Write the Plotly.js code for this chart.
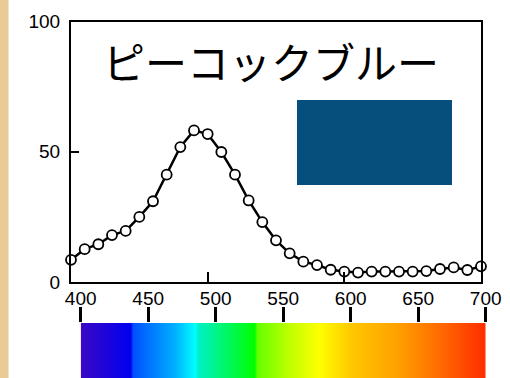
<!DOCTYPE html>
<html>
<head>
<meta charset="utf-8">
<script src="https://cdn.plot.ly/plotly-3.0.1.min.js"></script>
<style>html,body{margin:0;padding:0;background:#fff;}#chart{width:510px;height:378px;}</style>
</head>
<body>
<div id="chart"></div>
<script>
// Data
const wavelengths = [400,410,420,430,440,450,460,470,480,490,500,510,520,530,540,550,560,570,580,590,600,610,620,630,640,650,660,670,680,690,700];
const reflectance = [8.5,12.6,14.5,18,19.6,25,31,41.2,51.8,58.2,56.8,49.9,41.2,31.3,23,16,11,7.8,6.5,4.7,4.0,3.6,4.0,4.0,4.0,4.0,4.2,5.0,5.6,4.6,6.0];
const yTickVals = [0,50,100];
const yTickText = ['0','50','100'];
const scaleTickVals = [400,450,500,550,600,650,700];
const scaleTickText = ['400','450','500','550','600','650','700'];
const spectrumNm = [400,437,439,470,485,487,529,531,555,577,600,635,670,700];
const spectrumColors = ['#3c08c4','#0000f0','#0050ff','#00b0ff','#00ffff','#00f0c8','#00ff00','#66ff00','#c0ff00','#ffff00','#ffc800','#ffa000','#ff6400','#ff2c00'];
const titleText = 'ピーコックブルー';
const swatchColor = '#064e7c';

const nmMin = spectrumNm[0], nmMax = spectrumNm[spectrumNm.length-1];
const colorscale = spectrumNm.map((v,i)=>[(v-nmMin)/(nmMax-nmMin), spectrumColors[i]]);

const traces = [
  {
    x: wavelengths, y: reflectance, type: 'scatter', mode: 'lines+markers',
    xaxis: 'x', yaxis: 'y', cliponaxis: false,
    line: {color: '#000', width: 2.5},
    marker: {symbol: 'circle', size: 10, color: '#fff', line: {color: '#000', width: 1.8}},
    hoverinfo: 'x+y'
  },
  {
    x: [nmMin, nmMax, nmMax, nmMin, nmMin], y: [0,0,1,1,0],
    type: 'scatter', mode: 'lines', fill: 'toself',
    xaxis: 'x2', yaxis: 'y2',
    line: {width: 0, color: 'rgba(0,0,0,0)'},
    fillgradient: {type: 'horizontal', colorscale: colorscale, start: nmMin, stop: nmMax},
    hoverinfo: 'skip'
  }
];

const tickFont = {family: 'Liberation Sans, Arial, sans-serif', size: 19, color: '#000'};

const layout = {
  width: 510, height: 378,
  margin: {l: 0, r: 0, t: 0, b: 0},
  paper_bgcolor: '#fff', plot_bgcolor: 'rgba(0,0,0,0)',
  showlegend: false,
  xaxis: {
    domain: [71/510, 481/510], range: [400,700], anchor: 'y',
    showline: true, linecolor: '#000', linewidth: 2, mirror: true,
    ticks: 'inside', tick0: 400, dtick: 100, ticklen: 10, tickwidth: 2, tickcolor: '#000',
    showticklabels: false, showgrid: false, zeroline: false
  },
  yaxis: {
    domain: [(378-282)/378, (378-21.5)/378], range: [0,100], anchor: 'x',
    showline: true, linecolor: '#000', linewidth: 2, mirror: true,
    ticks: 'inside', tickvals: yTickVals, ticktext: yTickText, ticklen: 8, tickwidth: 2, tickcolor: '#000',
    tickfont: tickFont, ticklabelstandoff: 5,
    showgrid: false, zeroline: false
  },
  xaxis2: {
    domain: [80.7/510, 485.7/510], range: [400,700], anchor: 'y2', side: 'top',
    ticks: 'outside', tickvals: scaleTickVals, ticktext: scaleTickText,
    ticklen: 15, tickwidth: 3, tickcolor: '#000', tickfont: tickFont,
    ticklabelstandoff: -6,
    showline: false, showgrid: false, zeroline: false
  },
  yaxis2: {
    domain: [0, (378-323)/378], range: [0,1], anchor: 'x2', visible: false, fixedrange: true
  },
  shapes: [
    {type: 'rect', xref: 'paper', yref: 'paper', x0: 0, x1: 8.5/510, y0: 0, y1: 1,
     fillcolor: '#e8cb95', line: {width: 0}, layer: 'below'},
    {type: 'rect', xref: 'paper', yref: 'paper', x0: 297/510, x1: 452/510, y0: (378-185)/378, y1: (378-100)/378,
     fillcolor: swatchColor, line: {width: 0}}
  ],
  annotations: [
    {text: titleText, xref: 'paper', yref: 'paper', x: 271/510, y: (378-60)/378,
     xanchor: 'center', yanchor: 'middle', showarrow: false,
     font: {family: 'Noto Sans CJK JP, sans-serif', size: 42, color: '#000'}}
  ]
};

Plotly.newPlot('chart', traces, layout, {displayModeBar: false, staticPlot: true});
</script>
</body>
</html>
